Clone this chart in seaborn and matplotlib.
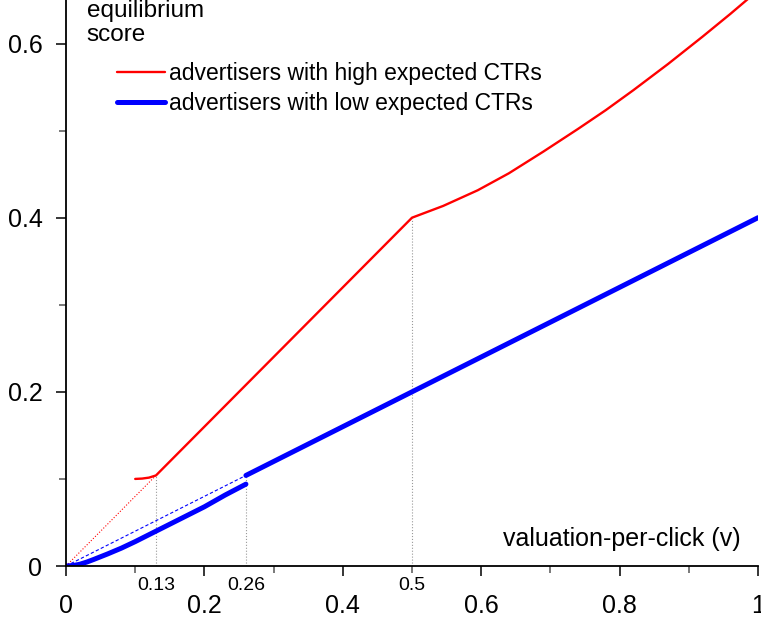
import matplotlib
matplotlib.use("Agg")
import matplotlib.pyplot as plt
import seaborn as sns
import pandas as pd

# values
high_v = [0.10, 0.11, 0.12, 0.13, 0.50, 0.545, 0.595, 0.64, 0.69, 0.74, 0.78,
          0.82, 0.87, 0.92, 0.96, 1.00]
high_s = [0.100, 0.1004, 0.1015, 0.104, 0.400, 0.4135, 0.4315, 0.451, 0.476, 0.502,
          0.5235, 0.5465, 0.5765, 0.608, 0.634, 0.661]

low_a_v = [0.00, 0.01, 0.02, 0.03, 0.04, 0.06, 0.08, 0.10, 0.13, 0.16, 0.20, 0.23, 0.26]
low_a_s = [0.000, 0.0005, 0.002, 0.0045, 0.0075, 0.0138, 0.0205, 0.028, 0.040,
           0.052, 0.068, 0.0815, 0.094]
low_b_v = [0.26, 1.00]
low_b_s = [0.104, 0.400]

high_ref_v = [0.00, 0.13]
high_ref_s = [0.000, 0.104]
low_ref_v = [0.00, 0.26]
low_ref_s = [0.000, 0.104]

guide_v = [0.13, 0.26, 0.50]
guide_top = [0.104, 0.104, 0.400]
guide_labels = ["0.13", "0.26", "0.5"]

x_ticks = [0, 0.2, 0.4, 0.6, 0.8, 1.0]
x_ticklabels = ["0", "0.2", "0.4", "0.6", "0.8", "1"]
y_ticks = [0, 0.2, 0.4, 0.6]
y_ticklabels = ["0", "0.2", "0.4", "0.6"]

sns.set_style("ticks")
plt.rcParams["font.family"] = ["Liberation Sans", "DejaVu Sans"]
plt.rcParams["text.color"] = "black"
plt.rcParams["xtick.color"] = "black"
plt.rcParams["ytick.color"] = "black"
plt.rcParams["xtick.labelcolor"] = "black"
plt.rcParams["ytick.labelcolor"] = "black"

fig = plt.figure(figsize=(7.61, 6.21), dpi=100)
ax = fig.add_axes([66 / 761, 55 / 621, 692 / 761, 566 / 621])

# thin dotted helper lines
for v, top in zip(guide_v, guide_top):
    ax.plot([v, v], [0, top], color="#9a9a9a", lw=0.8, ls=":")
sns.lineplot(x=high_ref_v, y=high_ref_s, ax=ax, color="red", lw=0.8, ls=":")
sns.lineplot(x=low_ref_v, y=low_ref_s, ax=ax, color="blue", lw=0.8, ls=(0, (3, 2)))

df_high = pd.DataFrame({"v": high_v, "s": high_s})
sns.lineplot(data=df_high, x="v", y="s", ax=ax, color="red", lw=1.7, sort=False,
             label="advertisers with high expected CTRs")
sns.lineplot(x=low_a_v, y=low_a_s, ax=ax, color="blue", lw=3.6,
             solid_capstyle="round", label="advertisers with low expected CTRs")
sns.lineplot(x=low_b_v, y=low_b_s, ax=ax, color="blue", lw=3.6,
             solid_capstyle="round")

ax.set_xlim(0, 1)
ax.set_ylim(0, 0.65)
ax.set_xticks(x_ticks)
ax.set_xticklabels(x_ticklabels, fontsize=18)
ax.set_yticks(y_ticks)
ax.set_yticklabels(y_ticklabels, fontsize=18)
ax.set_xticks([0.1, 0.3, 0.5, 0.7, 0.9], minor=True)
ax.set_yticks([0.1, 0.3, 0.5], minor=True)
ax.tick_params(axis="x", which="major", length=7, width=1.1, pad=13)
ax.tick_params(axis="x", which="minor", length=5, width=1.1, color="#555555")
ax.tick_params(axis="y", which="major", length=7, width=1.1, pad=10)
ax.tick_params(axis="y", which="minor", length=5, width=1.1, color="#555555")
ax.set_xlabel("")
ax.set_ylabel("")
sns.despine(ax=ax)
for side in ["left", "bottom"]:
    ax.spines[side].set_linewidth(1.3)
    ax.spines[side].set_color("black")

for v, lab in zip(guide_v, guide_labels):
    ax.text(v, -0.0345, lab, transform=ax.get_xaxis_transform(),
            ha="center", va="center", fontsize=14)

ax.text(0.03, 1.0, "equilibrium\nscore", transform=ax.transAxes,
        ha="left", va="top", fontsize=17.5, linespacing=1.1)
ax.text(0.975, 0.047, "valuation-per-click (v)", transform=ax.transAxes,
        ha="right", va="center", fontsize=18)

ax.legend(loc="upper left", bbox_to_anchor=(0.06, 0.906), frameon=False,
          fontsize=16.5, handlelength=2.1, handletextpad=0.2, labelspacing=0.3,
          borderaxespad=0)

fig.savefig("out.png", dpi=100)
